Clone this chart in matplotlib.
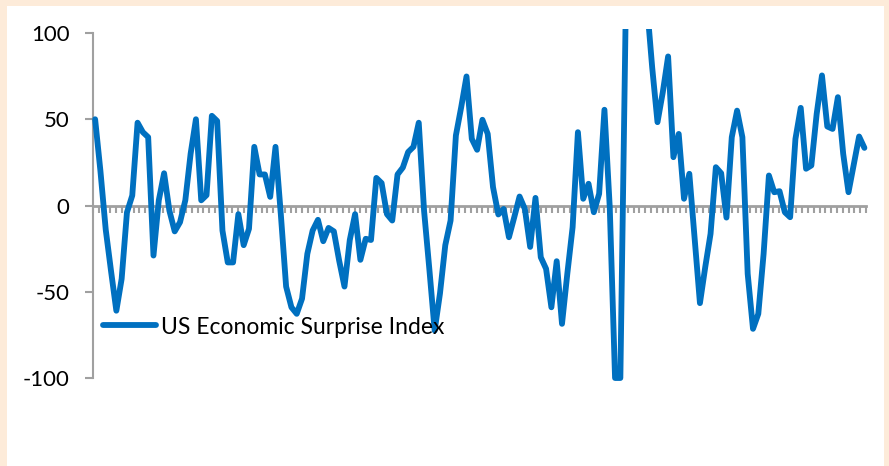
import numpy as np
import matplotlib
matplotlib.use('Agg')
import matplotlib.pyplot as plt
from matplotlib.patches import Rectangle
from matplotlib.transforms import Bbox, TransformedBbox


# data --------------------------------------------------------------------------------------------------
series_name = 'US Economic Surprise Index'
surprise = [
    50, 20, -14, -38, -61, -42.5, -4, 5.8, 48, 42.5,
    39.6, -29, 3, 18.7, -3, -15, -9.7, 3, 30, 50,
    3, 6, 52, 49, -14.5, -33, -33, -5, -23, -13.5,
    34, 18, 18, 5, 34, -5, -47, -59, -62.8, -54,
    -28, -14.5, -8.3, -20.7, -13, -15, -32, -47, -20, -5,
    -31.5, -19.3, -20, 16, 13, -5, -8.7, 18, 22, 31,
    34, 48, -3, -37, -72.5, -51, -23, -8.7, 40.6, 57,
    74.8, 38.6, 32.3, 49.7, 41.5, 10.6, -5.2, -2, -18.4, -6.8,
    5.2, -2, -24, 4.4, -30, -36.7, -59, -32.3, -68.6, -39.6,
    -12.6, 42.5, 3.9, 12.6, -3.9, 6.8, 55.5, -1, -100, -100,
    110, 135, 150, 130, 117, 80, 48.3, 65.7, 86.4, 28,
    41.5, 3.9, 18.4, -19, -56.6, -35.7, -16.4, 22.2, 18.7, -7,
    39.6, 55, 39.6, -39.6, -71.5, -62.8, -28, 17.4, 7.7, 8.3,
    -3.9, -6.8, 38.6, 56.6, 21.3, 23.2, 53, 75.4, 45.8, 44.4,
    62.8, 30, 7.7, 24, 40, 33.4,
]
y_ticks = [-100, -50, 0, 50, 100]
n_xticks = 134          # the category axis carries its own, slightly wider, tick spacing
#--------------------------------------------------------------------------------------------------------


# figure ------------------------------------------------------------------------------------------------
W, H = 889, 466
fig = plt.figure(figsize=(W / 100, H / 100), dpi=100)
fig.patch.set_facecolor('#FDEBD9')
fig.patches.append(Rectangle((7 / W, 0), (884 - 7) / W, (H - 6) / H,
                             transform=fig.transFigure, facecolor='white',
                             edgecolor='none', zorder=-5))

ax = fig.add_axes([93 / W, (H - 378) / H, (866 - 93) / W, (378 - 33) / H])
ax.set_zorder(2)
ax.patch.set_alpha(0)

x = np.arange(len(surprise))
line, = ax.plot(x, surprise, color='#0070C0', lw=4.2, solid_capstyle='round',
                solid_joinstyle='round', label=series_name, zorder=3)
# excel lets the line run a little past the plot edge
line.set_clip_box(TransformedBbox(Bbox([[-0.01, -0.012], [1.01, 1.012]]), ax.transAxes))

x0, x1 = -0.4, len(surprise) - 0.7
ax.set_xlim(x0, x1)
ax.set_ylim(-100, 100)

grey = '#A0A0A0'
for s in ('top', 'right'):
    ax.spines[s].set_visible(False)
ax.spines['left'].set_color(grey)
ax.spines['left'].set_linewidth(1.5)
ax.spines['bottom'].set_position(('data', 0))
ax.spines['bottom'].set_color(grey)
ax.spines['bottom'].set_linewidth(2)
ax.spines['bottom'].set_zorder(2)

ax.set_yticks(y_ticks)
ax.set_yticklabels([str(v) for v in y_ticks])
ax.tick_params(axis='y', direction='out', length=6, width=1.5, color=grey,
               pad=11, labelsize=16, labelcolor='black')
ax.set_xticks(np.linspace(x0, x1, n_xticks))
ax.set_xticklabels([])
ax.tick_params(axis='x', direction='out', length=5, width=1.5, color=grey)
for lab in ax.get_yticklabels():
    lab.set_family('Lato')

leg = ax.legend(loc='center left', bbox_to_anchor=(103 / W, 1 - 327 / H),
                bbox_transform=fig.transFigure, frameon=False, borderaxespad=0,
                borderpad=0, handlelength=2.3, handletextpad=0.25,
                prop={'family': 'Lato', 'size': 16.5})

fig.savefig('out.png', dpi=100)
